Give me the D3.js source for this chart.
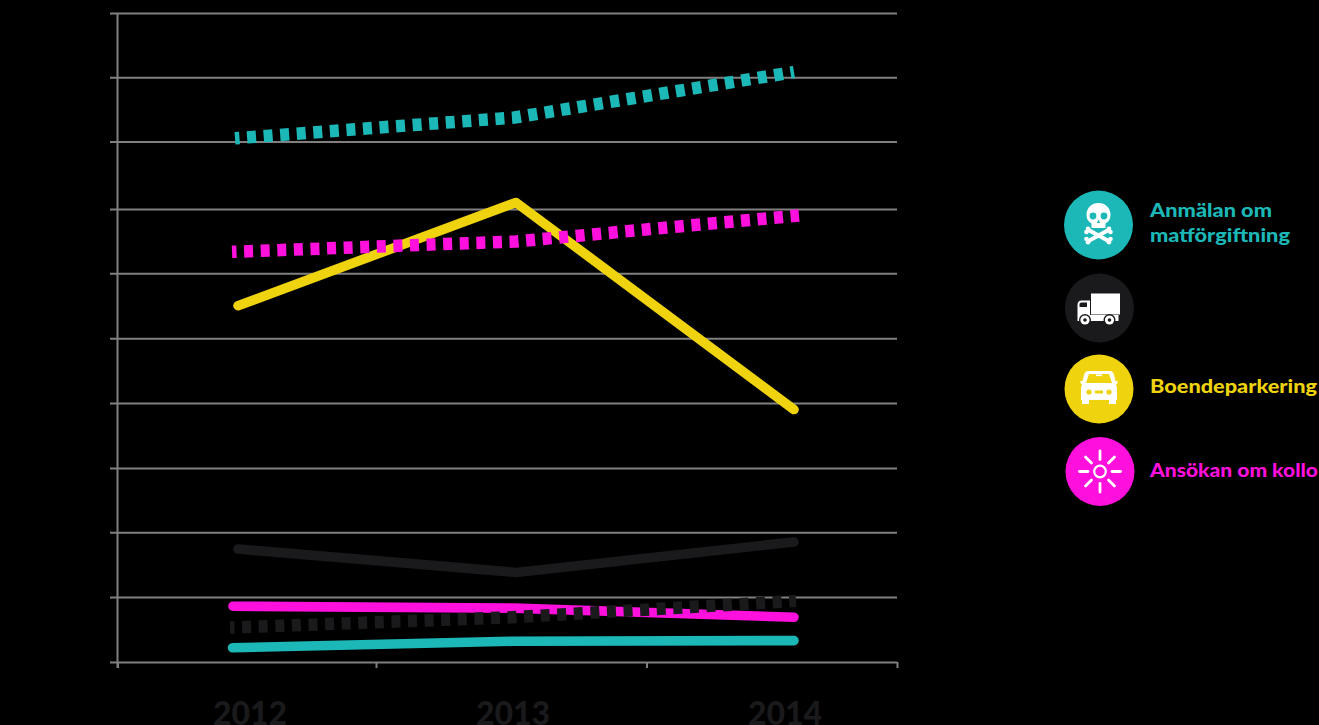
<!DOCTYPE html>
<html>
<head>
<meta charset="utf-8">
<style>
  html, body { margin: 0; padding: 0; background: #000; overflow: hidden; }
  svg { display: block; }
  text { font-family: Lato, "Noto Sans", sans-serif; font-weight: 900; }
</style>
<script src="https://cdnjs.cloudflare.com/ajax/libs/d3/7.8.5/d3.min.js"></script>
</head>
<body>
<svg id="chart" width="1319" height="725"></svg>
<script>
// values, the y axis has no labels so the unit is arbitrary
var years = [2012, 2013, 2014];
var gridValues = [0, 10, 20, 29.9, 39.9, 49.9, 59.9, 69.8, 80.2, 90.1, 100];
var xEdges = [2011.5, 2012.5, 2013.5, 2014.5];

var matSolid = [2.2, 3.2, 3.3];
var matDashed = [80.7, 83.9, 90.9];
var truckSolid = [17.4, 13.8, 18.5];
var truckDashed = [5.3, 6.9, 9.4];
var parkingSolid = [54.9, 70.8, 38.9];
var kolloSolid = [8.6, 8.3, 6.9];
var kolloDashed = [63.2, 64.8, 68.8];

var teal = "#1cb8b8", dark = "#1a1a1c", yellow = "#efd30f", pink = "#ff10dc", grey = "#808080";

// draw order matters, dashed pink goes over the yellow line
var series = [
	{ values: truckSolid, color: dark, dashed: false, x0: 238, x1: 794 },
	{ values: matSolid, color: teal, dashed: false, x0: 232.5, x1: 794 },
	{ values: kolloSolid, color: pink, dashed: false, x0: 233, x1: 794 },
	{ values: truckDashed, color: dark, dashed: true, x0: 230, x1: 796 },
	{ values: parkingSolid, color: yellow, dashed: false, x0: 238, x1: 794 },
	{ values: matDashed, color: teal, dashed: true, x0: 235, x1: 794 },
	{ values: kolloDashed, color: pink, dashed: true, x0: 232, x1: 799 }
];

var svg = d3.select("#chart");

var y = d3.scaleLinear().domain([0, 100]).range([662, 13]);
var xTicks = d3.scaleLinear().domain(xEdges).range([117.5, 376, 646.5, 897]);
var xLabels = d3.scaleLinear().domain(years).range([250, 513, 785]);

// horizontal grid, one axis with long ticks
var yAxis = d3.axisLeft(y).tickValues(gridValues).tickSize(-787).tickFormat("");
var gy = svg.append("g").attr("transform", "translate(110,0)").call(yAxis);
gy.select(".domain").remove();
gy.selectAll("line").attr("stroke", grey).attr("stroke-width", 2);

var xAxis = d3.axisBottom(xTicks).tickValues(xEdges).tickSize(6).tickSizeOuter(0).tickFormat("");
var gx = svg.append("g").attr("transform", "translate(0,662)").call(xAxis);
gx.select(".domain").remove();
gx.selectAll("line").attr("stroke", grey).attr("stroke-width", 2);

svg.append("line")
	.attr("x1", 117.5).attr("x2", 117.5)
	.attr("y1", y(100)).attr("y2", 668)
	.attr("stroke", grey).attr("stroke-width", 2);

svg.selectAll("text.year")
	.data(years)
	.enter().append("text")
	.attr("class", "year")
	.attr("x", function(d) { return xLabels(d); })
	.attr("y", 725)
	.attr("text-anchor", "middle")
	.attr("font-size", 32)
	.attr("fill", dark)
	.text(function(d) { return d; });

// lines
series.forEach(function(s) {
	var x = d3.scalePoint().domain(years).range([s.x0, s.x1]);
	var line = d3.line()
		.x(function(d, i) { return x(years[i]); })
		.y(function(d) { return y(d); });
	var path = svg.append("path")
		.attr("d", line(s.values))
		.attr("fill", "none")
		.attr("stroke", s.color);
	if (s.dashed) {
		path.attr("stroke-width", 12.5)
			.attr("stroke-dasharray", "9 7.6")
			.attr("stroke-dashoffset", 4.5);
	} else {
		path.attr("stroke-width", 9.6)
			.attr("stroke-linecap", "round")
			.attr("stroke-linejoin", "round");
	}
});

// legend
var legend = [
	{ color: teal, cx: 1098.5, cy: 225, icon: drawSkull },
	{ color: dark, cx: 1099.5, cy: 308, icon: drawTruck },
	{ color: yellow, cx: 1099, cy: 389, icon: drawCar },
	{ color: pink, cx: 1100, cy: 471.5, icon: drawSun }
];

legend.forEach(function(l) {
	var g = svg.append("g").attr("transform", "translate(" + l.cx + "," + l.cy + ")");
	g.append("circle").attr("r", 34.5).attr("fill", l.color);
	l.icon(g, l.color);
});

var legendText = [
	{ text: "Anmälan om", x: 1150, y: 216.5, w: 122, color: teal },
	{ text: "matförgiftning", x: 1150, y: 241.5, w: 140, color: teal },
	{ text: "Boendeparkering", x: 1150, y: 393, w: 167, color: yellow },
	{ text: "Ansökan om kollo", x: 1150, y: 476.5, w: 168, color: pink }
];

svg.selectAll("text.legend")
	.data(legendText)
	.enter().append("text")
	.attr("class", "legend")
	.attr("x", function(d) { return d.x; })
	.attr("y", function(d) { return d.y; })
	.attr("font-size", 19.5)
	.attr("textLength", function(d) { return d.w; })
	.attr("lengthAdjust", "spacingAndGlyphs")
	.attr("fill", function(d) { return d.color; })
	.text(function(d) { return d.text; });

function drawSkull(g, bg) {
	var bones = g.append("g").attr("stroke", "#fff").attr("stroke-linecap", "round");
	bones.append("line").attr("x1", -10).attr("y1", 5).attr("x2", 10).attr("y2", 16).attr("stroke-width", 4);
	bones.append("line").attr("x1", 10).attr("y1", 5).attr("x2", -10).attr("y2", 16).attr("stroke-width", 4);
	[[-10.5, 3.8], [-12, 7], [10.5, 3.8], [12, 7], [-12, 14], [-10.5, 17.2], [12, 14], [10.5, 17.2]].forEach(function(p) {
		g.append("circle").attr("cx", p[0]).attr("cy", p[1]).attr("r", 2.3).attr("fill", "#fff");
	});
	g.append("path")
		.attr("d", "M0,-22 C8,-22 12,-16 12,-10 C12,-6 10,-3 7,-1.5 L7,3 L-7,3 L-7,-1.5 C-10,-3 -12,-6 -12,-10 C-12,-16 -8,-22 0,-22 Z")
		.attr("fill", "#fff");
	g.append("circle").attr("cx", -5.5).attr("cy", -9).attr("r", 3.4).attr("fill", bg);
	g.append("circle").attr("cx", 5.5).attr("cy", -9).attr("r", 3.4).attr("fill", bg);
	g.append("path").attr("d", "M0,-5.5 L1.6,-2 L-1.6,-2 Z").attr("fill", bg);
}

function drawTruck(g, bg) {
	g.append("rect").attr("x", -8.5).attr("y", -14.5).attr("width", 29).attr("height", 21).attr("fill", "#fff");
	g.append("path")
		.attr("d", "M-22,13 L-22,-3 Q-22,-7.5 -18,-7.5 L-9.5,-7.5 L-9.5,7 L19,7 L19,13 Z")
		.attr("fill", "#fff");
	g.append("path").attr("d", "M-20,-1 L-20,-4 Q-20,-5.5 -18,-5.5 L-12.5,-5.5 L-12.5,-1 Z").attr("fill", bg);
	[-14.5, 10].forEach(function(cx) {
		g.append("circle").attr("cx", cx).attr("cy", 12).attr("r", 6).attr("fill", bg);
		g.append("circle").attr("cx", cx).attr("cy", 12).attr("r", 4.6).attr("fill", "#fff");
		g.append("circle").attr("cx", cx).attr("cy", 12).attr("r", 1.8).attr("fill", bg);
	});
}

function drawCar(g, bg) {
	g.append("path")
		.attr("d", "M-11,-18 L11,-18 Q14,-18 15,-14 L16.5,-8 L18.5,-8 L18.5,-5.5 L17,-5 L18,-1 L18,11 L17,11 L17,15 L10,15 L10,11 L-10,11 L-10,15 L-17,15 L-17,11 L-18,11 L-18,-1 L-17,-5 L-18.5,-5.5 L-18.5,-8 L-16.5,-8 L-15,-14 Q-14,-18 -11,-18 Z")
		.attr("fill", "#fff");
	g.append("path").attr("d", "M-10,-15 L10,-15 L13,-6 L-13,-6 Z").attr("fill", bg);
	g.append("rect").attr("x", -3).attr("y", -14.5).attr("width", 6).attr("height", 1.6).attr("fill", "#fff");
	g.append("circle").attr("cx", -10).attr("cy", 3).attr("r", 2.6).attr("fill", bg);
	g.append("circle").attr("cx", 10).attr("cy", 3).attr("r", 2.6).attr("fill", bg);
	g.append("rect").attr("x", -4).attr("y", 1.5).attr("width", 8).attr("height", 3).attr("fill", bg);
}

function drawSun(g) {
	g.append("circle").attr("r", 5.8).attr("fill", "none").attr("stroke", "#fff").attr("stroke-width", 2.2);
	d3.range(8).forEach(function(i) {
		var a = i * Math.PI / 4;
		g.append("line")
			.attr("x1", Math.cos(a) * 12).attr("y1", Math.sin(a) * 12)
			.attr("x2", Math.cos(a) * 20.5).attr("y2", Math.sin(a) * 20.5)
			.attr("stroke", "#fff").attr("stroke-width", 2.8).attr("stroke-linecap", "round");
	});
}
</script>
</body>
</html>
